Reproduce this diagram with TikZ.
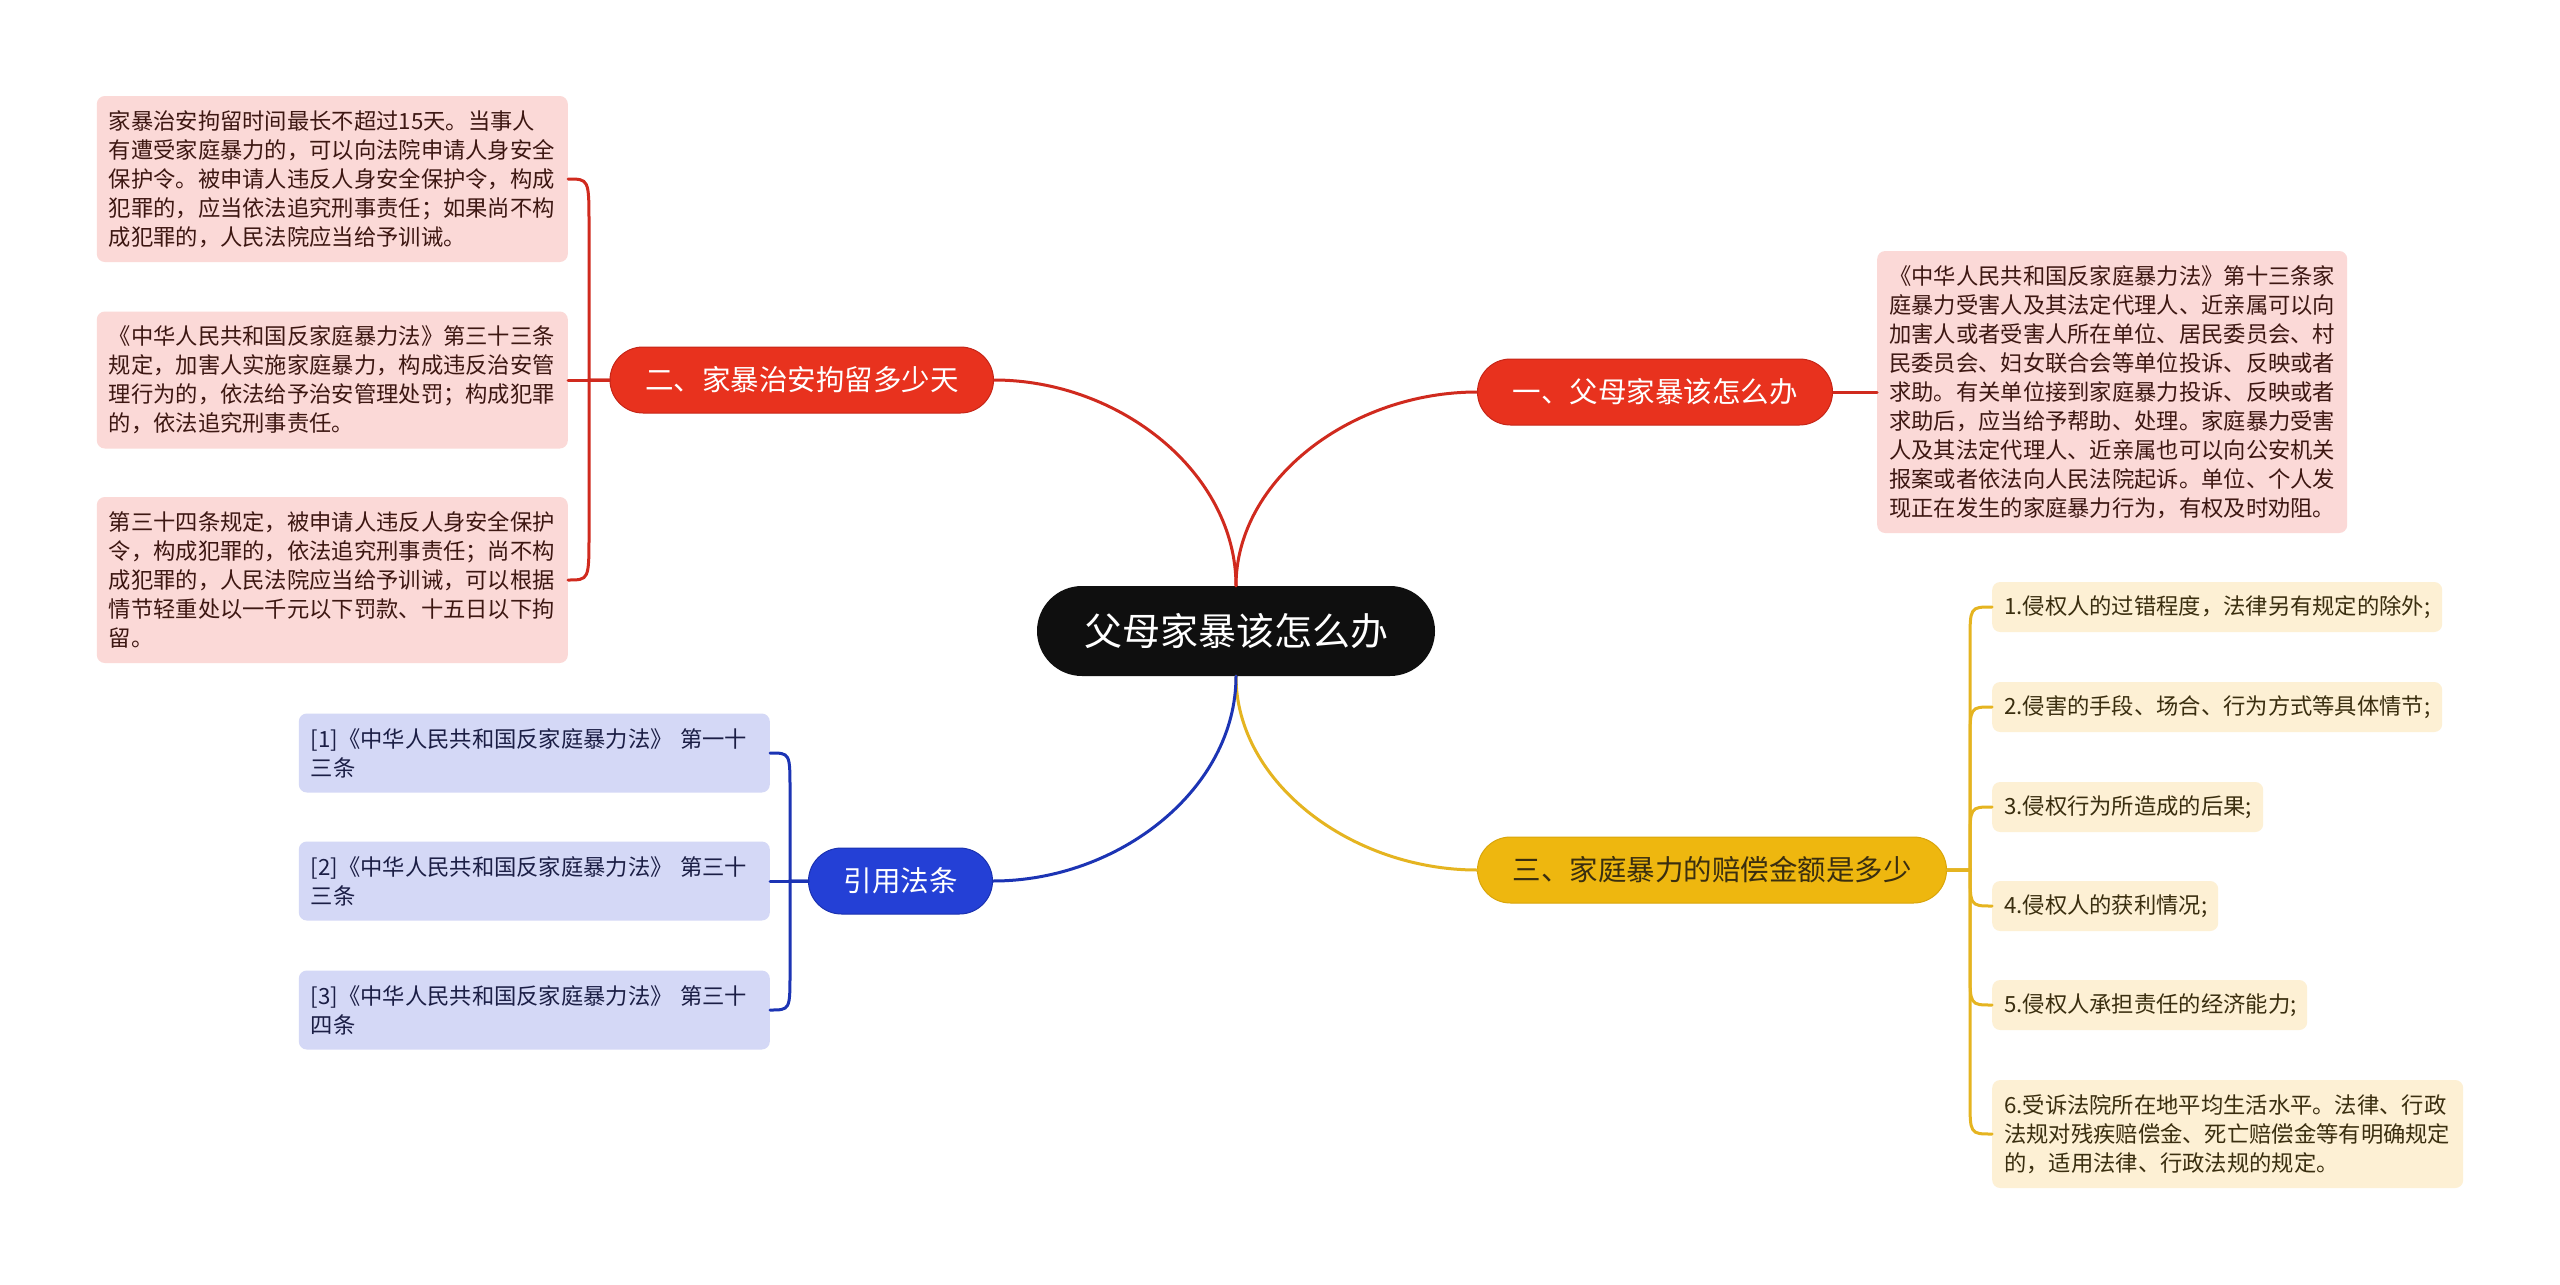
\documentclass[tikz,border=0pt]{standalone}
\usepackage{fontspec}
\newfontfamily\cjk{Noto Sans CJK SC}
\definecolor{redfill}{HTML}{E8321E}
\definecolor{redborder}{HTML}{C62517}
\definecolor{redline}{HTML}{D02A1E}
\definecolor{redleafbg}{HTML}{FBD9D7}
\definecolor{redtext}{HTML}{3D1712}
\definecolor{yelfill}{HTML}{EEB70F}
\definecolor{yelborder}{HTML}{D9A50A}
\definecolor{yelline}{HTML}{E5B420}
\definecolor{yelleafbg}{HTML}{FDF0D4}
\definecolor{yeltext}{HTML}{3A2E0F}
\definecolor{bluefill}{HTML}{2440D6}
\definecolor{blueborder}{HTML}{1A31B0}
\definecolor{blueline}{HTML}{1C34B4}
\definecolor{blueleafbg}{HTML}{D4D8F6}
\definecolor{bluetext}{HTML}{1B1E45}
\definecolor{centerfill}{HTML}{0F0F0F}
\begin{document}
\begin{tikzpicture}[x=1pt,y=-1pt,
  leaf/.style={rectangle, rounded corners=8pt, inner xsep=12pt, inner ysep=0pt, align=left,
    font=\cjk\fontsize{22.3}{29}\selectfont},
  nl/.style={minimum height={29pt*#1+21pt}},
  tw/.style={text width=#1},
  redleaf/.style={leaf, fill=redleafbg, text=redtext},
  yelleaf/.style={leaf, fill=yelleafbg, text=yeltext},
  blueleaf/.style={leaf, fill=blueleafbg, text=bluetext},
  branch/.style={rectangle, rounded corners=33pt, minimum height=66pt, inner xsep=35pt, inner ysep=0pt,
    line width=1pt, font=\cjk\fontsize{28.5}{34}\selectfont},
  redbranch/.style={branch, fill=redfill, draw=redborder, text=white},
  yelbranch/.style={branch, fill=yelfill, draw=yelborder, text=yeltext},
  bluebranch/.style={branch, fill=bluefill, draw=blueborder, text=white},
  centernode/.style={rectangle, rounded corners=45pt, minimum height=90pt, minimum width=398pt,
    fill=centerfill, text=white, font=\cjk\fontsize{38}{44}\selectfont},
  conn/.style={line width=3pt, line cap=round},
  rconn/.style={conn, draw=redline},
  yconn/.style={conn, draw=yelline},
  bconn/.style={conn, draw=blueline},
]
\fill[white] (0,0) rectangle (2560,1285);
\useasboundingbox (0,0) rectangle (2560,1285);

% center
\node[centernode] (c) at (1236,631) {父母家暴该怎么办};

% branches
\node[redbranch, anchor=west] (b1) at (1477,392) {一、父母家暴该怎么办};
\node[redbranch, anchor=east] (b2) at (994,380) {二、家暴治安拘留多少天};
\node[yelbranch, anchor=west] (b3) at (1477,870) {三、家庭暴力的赔偿金额是多少};
\node[bluebranch, anchor=east] (b4) at (993,881) {引用法条};

% branch 1 leaf
\node[redleaf, nl=9, tw=446pt, anchor=west] (r1) at (1877,392) {《中华人民共和国反家庭暴力法》第十三条家\\庭暴力受害人及其法定代理人、近亲属可以向\\加害人或者受害人所在单位、居民委员会、村\\民委员会、妇女联合会等单位投诉、反映或者\\求助。有关单位接到家庭暴力投诉、反映或者\\求助后，应当给予帮助、处理。家庭暴力受害\\人及其法定代理人、近亲属也可以向公安机关\\报案或者依法向人民法院起诉。单位、个人发\\现正在发生的家庭暴力行为，有权及时劝阻。};

% branch 2 leaves
\node[redleaf, nl=5, tw=447pt, anchor=east] (l1) at (568,179) {家暴治安拘留时间最长不超过15天。当事人\\有遭受家庭暴力的，可以向法院申请人身安全\\保护令。被申请人违反人身安全保护令，构成\\犯罪的，应当依法追究刑事责任；如果尚不构\\成犯罪的，人民法院应当给予训诫。};
\node[redleaf, nl=4, tw=447pt, anchor=east] (l2) at (568,380) {《中华人民共和国反家庭暴力法》第三十三条\\规定，加害人实施家庭暴力，构成违反治安管\\理行为的，依法给予治安管理处罚；构成犯罪\\的，依法追究刑事责任。};
\node[redleaf, nl=5, tw=447pt, anchor=east] (l3) at (568,580) {第三十四条规定，被申请人违反人身安全保护\\令，构成犯罪的，依法追究刑事责任；尚不构\\成犯罪的，人民法院应当给予训诫，可以根据\\情节轻重处以一千元以下罚款、十五日以下拘\\留。};

% branch 3 leaves
\node[yelleaf, nl=1, tw=426pt, anchor=west] (y1) at (1992,607) {1.侵权人的过错程度，法律另有规定的除外;};
\node[yelleaf, nl=1, tw=426pt, anchor=west] (y2) at (1992,707) {2.侵害的手段、场合、行为方式等具体情节;};
\node[yelleaf, nl=1, tw=247pt, anchor=west] (y3) at (1992,807) {3.侵权行为所造成的后果;};
\node[yelleaf, nl=1, tw=202pt, anchor=west] (y4) at (1992,906) {4.侵权人的获利情况;};
\node[yelleaf, nl=1, tw=291pt, anchor=west] (y5) at (1992,1005) {5.侵权人承担责任的经济能力;};
\node[yelleaf, nl=3, tw=447pt, anchor=west] (y6) at (1992,1134) {6.受诉法院所在地平均生活水平。法律、行政\\法规对残疾赔偿金、死亡赔偿金等有明确规定\\的，适用法律、行政法规的规定。};

% branch 4 leaves
\node[blueleaf, nl=2, tw=447pt, anchor=east] (q1) at (770,753) {[1]《中华人民共和国反家庭暴力法》 第一十\\三条};
\node[blueleaf, nl=2, tw=447pt, anchor=east] (q2) at (770,881) {[2]《中华人民共和国反家庭暴力法》 第三十\\三条};
\node[blueleaf, nl=2, tw=447pt, anchor=east] (q3) at (770,1010) {[3]《中华人民共和国反家庭暴力法》 第三十\\四条};

% center connectors
\draw[rconn] (c.north) .. controls (1236,479) and (1352,392) .. (b1.west);
\draw[rconn] (c.north) .. controls (1236,473) and (1120,380) .. (b2.east);
\draw[yconn] (c.south) .. controls (1236,783) and (1352,870) .. (b3.west);
\draw[bconn] (c.south) .. controls (1236,789) and (1119,881) .. (b4.east);

% branch 1
\draw[rconn] (b1.east) -- (r1.west);

% branch 2
\draw[rconn] (b2.west) -- (589,380) -- (589,225) .. controls (589,179) .. (l1.east);
\draw[rconn] (b2.west) -- (l2.east);
\draw[rconn] (b2.west) -- (589,380) -- (589,534) .. controls (589,580) .. (l3.east);

% branch 3
\draw[yconn] (b3.east) -- (1970,870) -- (1970,642) .. controls (1970,607) .. (y1.west);
\draw[yconn] (b3.east) -- (1970,870) -- (1970,742) .. controls (1970,707) .. (y2.west);
\draw[yconn] (b3.east) -- (1970,870) -- (1970,842) .. controls (1970,807) .. (y3.west);
\draw[yconn] (b3.east) -- (1970,870) .. controls (1970,906) .. (y4.west);
\draw[yconn] (b3.east) -- (1970,870) -- (1970,970) .. controls (1970,1005) .. (y5.west);
\draw[yconn] (b3.east) -- (1970,870) -- (1970,1099) .. controls (1970,1134) .. (y6.west);

% branch 4
\draw[bconn] (b4.west) -- (790,881) -- (790,790) .. controls (790,753) .. (q1.east);
\draw[bconn] (b4.west) -- (q2.east);
\draw[bconn] (b4.west) -- (790,881) -- (790,973) .. controls (790,1010) .. (q3.east);
\end{tikzpicture}
\end{document}
